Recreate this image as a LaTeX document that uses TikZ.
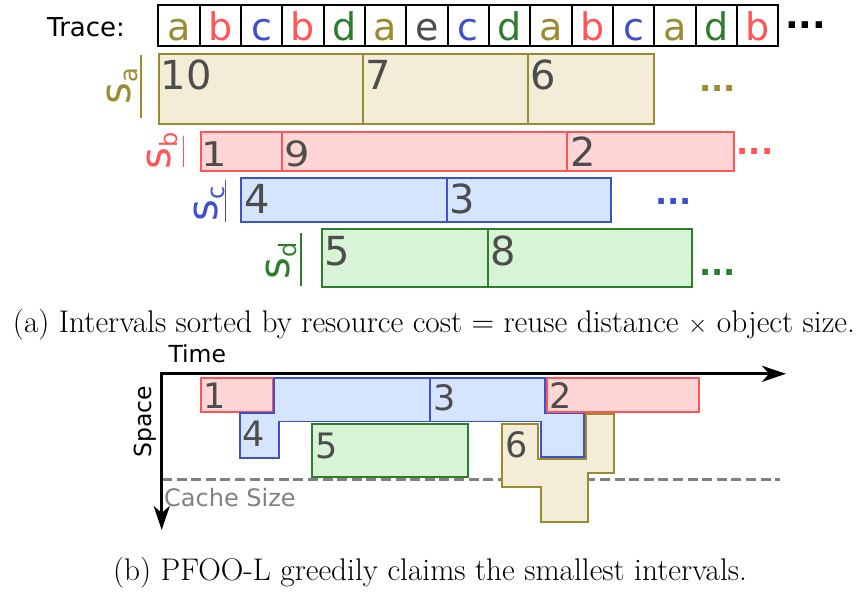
\documentclass[tikz,border=0pt]{standalone}
\usepackage{fontspec}
\usetikzlibrary{arrows.meta}
\newfontfamily\dv{DejaVu Sans}
\definecolor{olv}{HTML}{9A8A30}
\definecolor{olvf}{HTML}{F3EDD7}
\definecolor{rd}{HTML}{FF5555}
\definecolor{rdf}{HTML}{FFD5D5}
\definecolor{bl}{HTML}{3F51C8}
\definecolor{blf}{HTML}{D5E5FF}
\definecolor{gr}{HTML}{2D7D2D}
\definecolor{grf}{HTML}{D7F4D7}
\definecolor{dg}{HTML}{4D4D4D}
\definecolor{cg}{HTML}{808080}
\tikzset{
  tracecell/.style={draw=black, line width=1.8},
  letter/.style={anchor=base, inner sep=0, font=\dv\fontsize{38}{38}\selectfont},
  dotsnode/.style={anchor=base west, inner sep=0, font=\dv\bfseries\fontsize{32}{32}\selectfont},
  bigdig/.style={anchor=base west, inner sep=0, text=dg, font=\dv\fontsize{40}{40}\selectfont},
  smalldig/.style={anchor=base west, inner sep=0, text=dg, font=\dv\fontsize{35}{35}\selectfont},
  slabel/.style={anchor=base west, inner sep=0, rotate=90, font=\dv\fontsize{42}{42}\selectfont},
  sline/.style={line width=1.2},
  boxa/.style={draw=olv, fill=olvf, line width=1.8},
  boxb/.style={draw=rd, fill=rdf, line width=1.8},
  boxc/.style={draw=bl, fill=blf, line width=1.8},
  boxd/.style={draw=gr, fill=grf, line width=1.8},
  axislbl/.style={inner sep=0, font=\dv\fontsize{23.5}{23.5}\selectfont},
  axis/.style={line width=3, {Stealth[length=24, width=16, inset=7]}-{Stealth[length=24, width=16, inset=7]}},
  cachedash/.style={draw=cg, line width=3, dash pattern=on 10 off 4.6},
  caption/.style={anchor=base, inner sep=0, font=\fontsize{31.3}{36}\selectfont},
}
\newcommand{\sub}[1]{\raisebox{-7pt}{\fontsize{24}{24}\selectfont #1}}
\begin{document}
\begin{tikzpicture}[x=1pt, y=-1pt]
\useasboundingbox (0,0) rectangle (862,592);
% ---------- Trace row
\node[anchor=base west, inner sep=0, font=\dv\fontsize{26}{26}\selectfont] (trace) at (47,36) {Trace:};
\def\tw{41.333}
\foreach \L/\C [count=\i] in {a/olv,b/rd,c/bl,b/rd,d/gr,a/olv,e/dg,c/bl,d/gr,a/olv,b/rd,c/bl,a/olv,d/gr,b/rd} {
  \draw[tracecell] ({158.3+(\i-1)*\tw},5.3) rectangle ({158.3+\i*\tw},45.7);
  \node[letter, text=\C] (t\i) at ({158.3+(\i-0.5)*\tw},40) {\L};
}
\node[dotsnode, font=\dv\bfseries\fontsize{36}{36}\selectfont] (tdots) at (785,28) {...};
% ---------- S_a
\draw[boxa] (159.3,54.3) rectangle (363,124.3);
\draw[boxa] (363,54.3) rectangle (527.7,124.3);
\draw[boxa] (527.7,54.3) rectangle (654,124.3);
\node[bigdig] (a10) at (160.6,89.3) {10};
\node[bigdig] (a7) at (365.5,89.3) {7};
\node[bigdig] (a6) at (530.2,89.3) {6};
\node[dotsnode, text=olv] (adots) at (699,91) {...};
\node[slabel, text=olv] (sa) at (130,104.5) {s\sub{a}};
\coordinate (la1) at (141,55); \coordinate (la2) at (141,118.3);
\draw[sline, olv] (la1) -- (la2);
% ---------- S_b
\draw[boxb] (201,132.3) rectangle (281.7,171);
\draw[boxb] (281.7,132.3) rectangle (567.3,171);
\draw[boxb] (567.3,132.3) rectangle (734,171);
\node[bigdig] (b1) at (201.6,166.2) {\scalebox{1}[0.85]{1}};
\node[bigdig] (b9) at (284.2,166.2) {\scalebox{1}[0.87]{9}};
\node[bigdig] (b2) at (569.8,166.7) {2};
\node[dotsnode, text=rd] (bdots) at (736.5,154) {...};
\node[slabel, text=rd] (sb) at (170.7,169.5) {s\sub{b}};
\coordinate (lb1) at (183.3,136); \coordinate (lb2) at (183.3,167.3);
\draw[sline, rd] (lb1) -- (lb2);
% ---------- S_c
\draw[boxc] (240.7,178.3) rectangle (447.3,222.3);
\draw[boxc] (447.3,178.3) rectangle (611.3,222.3);
\node[bigdig] (c4) at (244,213) {4};
\node[bigdig] (c3) at (449.7,213) {3};
\node[dotsnode, text=bl] (cdots) at (655.3,204.5) {...};
\node[slabel, text=bl] (sc) at (217.3,221.2) {s\sub{c}};
\coordinate (lc1) at (225.7,180); \coordinate (lc2) at (225.7,221.7);
\draw[sline, bl] (lc1) -- (lc2);
% ---------- S_d
\draw[boxd] (321.7,229.3) rectangle (488.3,286.7);
\draw[boxd] (488.3,229.3) rectangle (692.3,286.7);
\node[bigdig] (d5) at (324.6,265.7) {5};
\node[bigdig] (d8) at (490,265.7) {8};
\node[dotsnode, text=gr] (ddots) at (699,275) {...};
\node[slabel, text=gr] (sd) at (289.3,279.5) {s\sub{d}};
\coordinate (ld1) at (301,233.3); \coordinate (ld2) at (301,285.7);
\draw[sline, gr] (ld1) -- (ld2);
% ---------- caption (a)
\node[caption] (capa) at (434,332) {(a) Intervals sorted by resource cost = reuse distance $\times$ object size.};
% ---------- part (b)
\node[axislbl, anchor=base west] (time) at (168.3,362.7) {Time};
\node[axislbl, anchor=base, rotate=90] (space) at (151.7,421.7) {Space};
\coordinate (dash1) at (162,479.3); \coordinate (dash2) at (780,479.3);
\draw[cachedash] (dash1) -- (dash2);
\node[axislbl, anchor=base west, text=cg, font=\dv\fontsize{24}{24}\selectfont] (cache) at (164,506.7) {Cache Size};
% intervals
\draw[boxb] (200.7,377.7) rectangle (273.3,411.7);
\draw[boxc] (274.3,377.7) -- (430,377.7) -- (430,421.5) -- (279.3,421.5) -- (279.3,458.3) -- (240,458.3) -- (240,413.3) -- (274.3,413.3) -- cycle;
\draw[boxc] (430,377.7) -- (545,377.7) -- (545,413) -- (584,413) -- (584,457) -- (541,457) -- (541,421.5) -- (430,421.5) -- cycle;
\draw[boxd] (312.3,423.7) rectangle (467.7,476.7);
\draw[boxb] (546.7,377.7) rectangle (699.3,411.7);
\draw[boxa] (502.3,424) -- (538.3,424) -- (538.3,459) -- (585.7,459) -- (585.7,414) -- (614.3,414) -- (614.3,472.7) -- (587.7,472.7) -- (587.7,521.7) -- (540.7,521.7) -- (540.7,487.3) -- (502.3,487.3) -- cycle;
\node[smalldig] (i1) at (203,408.3) {1};
\node[smalldig] (i4) at (242.6,446.7) {4};
\node[smalldig] (i5) at (315,458.3) {5};
\node[smalldig] (i3) at (432.8,410.7) {3};
\node[smalldig] (i2) at (549,408.3) {2};
\node[smalldig] (i6) at (505,457.3) {6};
% axes
\coordinate (O) at (161.7,373.8);
\coordinate (xend) at (786,373.8);
\coordinate (yend) at (161.7,530);
\draw[axis] (xend) -- (O) -- (yend);
% ---------- caption (b)
\node[caption] (capb) at (430,580) {(b) PFOO-L greedily claims the smallest intervals.};
\end{tikzpicture}
\end{document}
